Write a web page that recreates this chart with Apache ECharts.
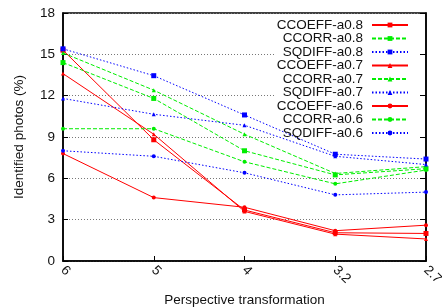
<!DOCTYPE html>
<html>
<head>
<meta charset="utf-8">
<script src="https://cdn.jsdelivr.net/npm/echarts@6/dist/echarts.min.js"></script>
<style>
    html, body { margin: 0; padding: 0; background: #fff; }
    #chart { width: 442px; height: 307px; }
</style>
</head>
<body>
<div id="chart"></div>
<script>
// perspective transformation steps (x axis)
const categories = ["6", "5", "4", "3.2", "2.7"];

// identified photos (%) per method / alpha
const ccoeff08 = [15.3, 8.8, 3.7, 2.05, 2.0];
const ccorr08 = [14.4, 11.8, 8.0, 6.25, 6.7];
const sqdiff08 = [15.4, 13.45, 10.6, 7.75, 7.4];
const ccoeff07 = [13.6, 9.2, 3.6, 1.95, 1.6];
const ccorr07 = [15.1, 12.4, 9.2, 6.35, 6.85];
const sqdiff07 = [11.8, 10.65, 9.85, 7.6, 7.0];
const ccoeff06 = [7.8, 4.6, 3.9, 2.2, 2.6];
const ccorr06 = [9.6, 9.6, 7.2, 5.6, 6.6];
const sqdiff06 = [8.0, 7.6, 6.4, 4.8, 5.0];

const seriesNames = [
    "CCOEFF-a0.8", "CCORR-a0.8", "SQDIFF-a0.8",
    "CCOEFF-a0.7", "CCORR-a0.7", "SQDIFF-a0.7",
    "CCOEFF-a0.6", "CCORR-a0.6", "SQDIFF-a0.6",
];
const seriesData = [
    ccoeff08, ccorr08, sqdiff08,
    ccoeff07, ccorr07, sqdiff07,
    ccoeff06, ccorr06, sqdiff06,
];

const font = "Liberation Sans, Arial, sans-serif";
const colors = ["#ff0000", "#00ee00", "#0000ff"];
const lineTypes = ["solid", [4, 2], [1.5, 2]];
const symbols = ["rect", "triangle", "circle"];
const symbolSizes = [5, 4, 4];

const series = seriesNames.map((name, i) => {
    const m = i % 3;
    const a = Math.floor(i / 3);
    return {
        name,
        type: "line",
        data: seriesData[i],
        color: colors[m],
        symbol: symbols[a],
        symbolSize: symbolSizes[a],
        showAllSymbol: true,
        lineStyle: { width: 1, type: lineTypes[m], color: colors[m] },
        itemStyle: { color: colors[m] },
        z: 3,
    };
});

const legendCenters = [24, 37.5, 51, 64.5, 78, 91.5, 105, 118.5, 132];
const legends = seriesNames.map((name, i) => ({
    data: [name],
    right: 33,
    top: legendCenters[i] - 6,
    align: "right",
    padding: 0,
    itemWidth: 36,
    itemHeight: 6,
    textStyle: {
        fontFamily: font,
        fontSize: 13.5,
        color: "#111",
        padding: [0, 4, 0, 0],
    },
}));

const chart = echarts.init(document.getElementById("chart"), null, { renderer: "canvas" });
chart.setOption({
    animation: false,
    backgroundColor: "#fff",
    grid: {
        left: 63,
        right: 16,
        top: 13,
        bottom: 46,
        outerBoundsMode: "none",
        show: true,
        borderColor: "#000",
        borderWidth: 1.5,
    },
    legend: legends,
    graphic: [
        {
            type: "rect",
            z: 1,
            shape: { x: 274, y: 17, width: 144, height: 123 },
            style: { fill: "#fff" },
        },
    ],
    xAxis: {
        type: "category",
        data: categories,
        boundaryGap: false,
        name: "Perspective transformation",
        nameLocation: "middle",
        nameGap: 32,
        nameTextStyle: { fontFamily: font, fontSize: 13.5, color: "#111" },
        axisLine: { lineStyle: { color: "#000", width: 1.5 } },
        axisTick: { inside: true, length: 5, lineStyle: { color: "#000" } },
        axisLabel: { rotate: -45, margin: 7, fontFamily: font, fontSize: 13.5, color: "#111" },
        splitLine: { show: false },
    },
    yAxis: [
        {
            type: "value",
            min: 0,
            max: 18,
            interval: 3,
            name: "Identified photos (%)",
            nameLocation: "middle",
            nameGap: 37,
            nameTextStyle: { fontFamily: font, fontSize: 13.5, color: "#111" },
            axisLine: { show: true, lineStyle: { color: "#000", width: 1.5 } },
            axisTick: { show: true, inside: true, length: 5, lineStyle: { color: "#000" } },
            axisLabel: { margin: 8, fontFamily: font, fontSize: 13.5, color: "#111" },
            splitLine: { lineStyle: { color: "#777", type: [1, 2], width: 1 } },
        },
        {
            type: "value",
            min: 0,
            max: 18,
            interval: 3,
            position: "right",
            axisLine: { show: true, lineStyle: { color: "#000", width: 1.5 } },
            axisTick: { show: true, inside: true, length: 6, lineStyle: { color: "#000" } },
            axisLabel: { show: false },
            splitLine: { show: false },
        },
    ],
    series,
});
</script>
</body>
</html>
